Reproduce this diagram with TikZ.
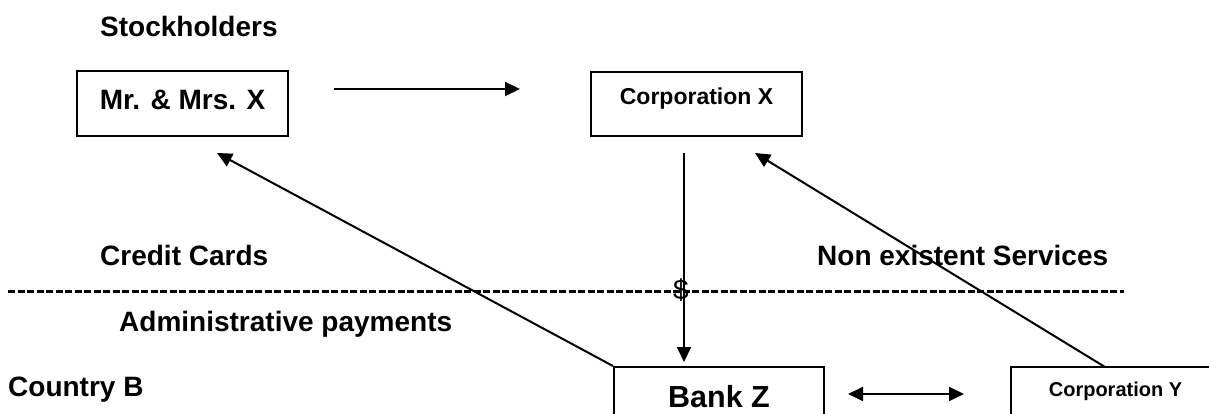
\documentclass[tikz,border=0pt]{standalone}
\usepackage{fontspec}
\setmainfont{Liberation Sans}
\usetikzlibrary{arrows.meta}
\begin{document}
\begin{tikzpicture}[x=1pt,y=-1pt,
 box/.style={draw,line width=2pt,inner sep=0pt},
 lab/.style={anchor=base west,inner sep=0pt,font=\fontsize{28}{34}\selectfont\bfseries},
 conn/.style={line width=2pt,-{Triangle[length=15pt,width=14pt]}},
 dconn/.style={line width=2pt,{Triangle[length=15pt,width=14pt]}-{Triangle[length=15pt,width=14pt]}},
]
\useasboundingbox (0,0) rectangle (1209,414);
\clip (0,0) rectangle (1209,414);

% boxes
\node[box,minimum width=211pt,minimum height=65pt,text height=20pt,text depth=7pt,
      font=\fontsize{28}{34}\selectfont\bfseries] (mr) at (182.5,103.5) {Mr. \& Mrs. X};
\node[box,minimum width=211pt,minimum height=64pt,text height=17pt,text depth=15pt,
      font=\fontsize{23}{28}\selectfont\bfseries] (corpx) at (696.5,104) {Corporation X};
\node[box,minimum width=210pt,minimum height=80pt,text height=22pt,text depth=22pt,
      font=\fontsize{30.5}{36}\selectfont\bfseries] (bank) at (719,407) {Bank Z};
\node[box,minimum width=209pt,minimum height=80pt,text height=15pt,text depth=35.6pt,
      font=\fontsize{20}{24}\selectfont\bfseries] (corpy) at (1115.5,407) {Corporation Y};

% labels
\node[lab] (stock) at (100,36.7) {Stockholders};
\node[lab] (credit) at (100,265) {Credit Cards};
\node[lab] (nonex) at (817,265) {Non existent Services};
\node[lab] (admin) at (119,331) {Administrative payments};
\node[lab] (country) at (8,396.7) {Country B};

% dashed border line
\coordinate (dl) at (8,291);
\coordinate (dr) at (1124,291);
\draw[line width=3pt,dash pattern=on 7pt off 2.5pt] (dl) -- (dr);
\node[inner sep=0pt,font=\fontsize{28}{34}\selectfont] (dollar) at (681,290) {\$};

% connectors
\coordinate (a1) at (334,89);
\coordinate (a2) at (520,89);
\draw[conn] (a1) -- (a2);

\coordinate (d1) at (684,153);
\coordinate (d2) at (684,362);
\draw[conn] (d1) -- (d2);

\coordinate (mrtip) at (217,153);
\draw[conn] (bank.north west) -- (mrtip);

\coordinate (ystart) at (1105,367);
\coordinate (xtip) at (755,153);
\draw[conn] (ystart) -- (xtip);

\coordinate (b1) at (848,394);
\coordinate (b2) at (964,394);
\draw[dconn] (b1) -- (b2);
\end{tikzpicture}
\end{document}
